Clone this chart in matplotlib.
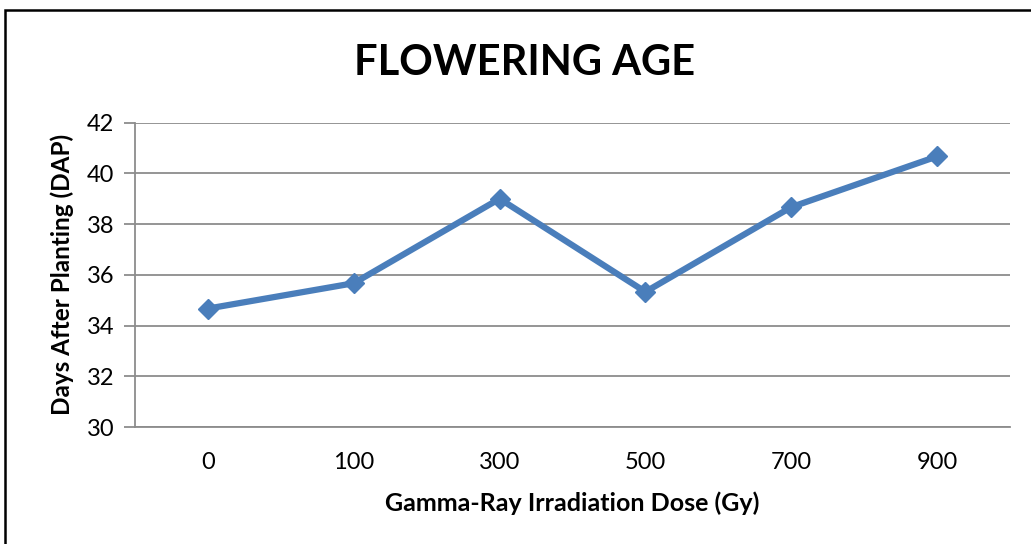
import matplotlib
matplotlib.use("Agg")
import matplotlib.pyplot as plt
from matplotlib.patches import Rectangle

# data
doses = ["0", "100", "300", "500", "700", "900"]
days = [34.67, 35.67, 39.0, 35.33, 38.67, 40.67]
yticks = [30, 32, 34, 36, 38, 40, 42]

plt.rcParams['font.family'] = ['Lato', 'DejaVu Sans']

W, H = 1031, 544
fig = plt.figure(figsize=(W / 100, H / 100), dpi=100)

# outer chart border
fig.patches.append(Rectangle((4.5 / W, -0.1), 1.2, 1 - 10.5 / H + 0.1,
                             transform=fig.transFigure, fill=False,
                             edgecolor='black', linewidth=1.8))

ax = fig.add_axes([135 / W, 1 - 427 / H, (1010 - 135) / W, (427 - 122.7) / H])

x = list(range(len(doses)))
ax.plot(x, days, color='#4A7EBB', linewidth=4.5, marker='D', markersize=10,
        solid_capstyle='round', zorder=3)

ax.set_xlim(-0.5, len(doses) - 0.5)
ax.set_ylim(30, 42)
ax.set_xticks(x)
ax.set_xticklabels(doses)
ax.set_yticks(yticks)

ax.grid(axis='y', color='#8c8c8c', linewidth=1.3)
ax.set_axisbelow(True)
for s in ['top', 'right']:
    ax.spines[s].set_visible(False)
ax.spines['left'].set_color('#8c8c8c')
ax.spines['left'].set_linewidth(1.3)
ax.spines['bottom'].set_color('#8c8c8c')
ax.spines['bottom'].set_linewidth(1.3)

ax.tick_params(axis='y', length=8, width=1.3, color='#8c8c8c', labelsize=17, pad=7)
ax.tick_params(axis='x', length=0, labelsize=17, pad=18)

ax.set_xlabel('Gamma-Ray Irradiation Dose (Gy)', fontsize=18, fontweight='bold', labelpad=13)
ax.set_ylabel('Days After Planting (DAP)', fontsize=17.5, fontweight='bold', labelpad=9)

fig.text(525 / W, 1 - 63 / H, 'FLOWERING AGE', fontsize=30, fontweight='bold',
         ha='center', va='center')

fig.savefig('out.png', dpi=100, facecolor='white')
